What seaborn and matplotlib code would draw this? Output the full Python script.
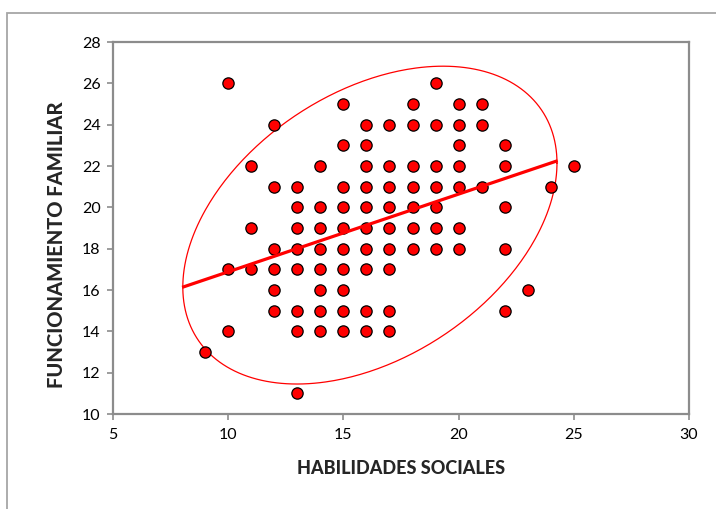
import numpy as np
import pandas as pd
import matplotlib
matplotlib.use("Agg")
import matplotlib.pyplot as plt
from matplotlib.patches import Rectangle
import seaborn as sns

# Puntajes observados: habilidades sociales (x) y funcionamiento familiar (y)
habilidades = [
    9,
    10, 10, 10,
    11, 11, 11,
    12, 12, 12, 12, 12, 12,
    13, 13, 13, 13, 13, 13, 13, 13,
    14, 14, 14, 14, 14, 14, 14, 14,
    15, 15, 15, 15, 15, 15, 15, 15, 15, 15,
    16, 16, 16, 16, 16, 16, 16, 16, 16, 16,
    17, 17, 17, 17, 17, 17, 17, 17, 17,
    18, 18, 18, 18, 18, 18, 18,
    19, 19, 19, 19, 19, 19, 19,
    20, 20, 20, 20, 20, 20, 20,
    21, 21, 21,
    22, 22, 22, 22, 22,
    23,
    24,
    25,
]
funcionamiento = [
    13,
    26, 17, 14,
    22, 19, 17,
    24, 21, 18, 17, 16, 15,
    21, 20, 19, 18, 17, 15, 14, 11,
    22, 20, 19, 18, 17, 16, 15, 14,
    25, 23, 21, 20, 19, 18, 17, 16, 15, 14,
    24, 23, 22, 21, 20, 19, 18, 17, 15, 14,
    24, 22, 21, 20, 19, 18, 17, 15, 14,
    25, 24, 22, 21, 20, 19, 18,
    26, 24, 22, 21, 20, 19, 18,
    25, 24, 23, 22, 21, 19, 18,
    25, 24, 21,
    23, 22, 20, 18, 15,
    16,
    21,
    22,
]

# Línea de tendencia lineal
tendencia_pendiente = 0.376
tendencia_intercepto = 13.12
tendencia_x = [8.0, 24.3]

# Elipse de concentración (centro y semidiámetros conjugados)
elipse_centro = (16.15, 19.14)
elipse_u = (8.12, 3.0)
elipse_v = (0.0, 7.08)

x_ticks = [5, 10, 15, 20, 25, 30]
y_ticks = [10, 12, 14, 16, 18, 20, 22, 24, 26, 28]

df = pd.DataFrame({"HABILIDADES SOCIALES": habilidades,
                   "FUNCIONAMIENTO FAMILIAR": funcionamiento})

sns.set_style("white")
plt.rcParams["font.family"] = ["Lato", "DejaVu Sans"]

W, H = 716, 509
fig = plt.figure(figsize=(W / 100, H / 100), dpi=100)
ax = fig.add_axes([113 / W, 1 - 414 / H, (689 - 113) / W, (414 - 42) / H])

gris = "#8c8c8c"

# Marco exterior del gráfico
fig.patches.append(Rectangle((7 / W, -0.05), 1.2, 1 - 13 / H + 0.05,
                             transform=fig.transFigure, fill=False,
                             edgecolor="#a6a6a6", linewidth=1.3, zorder=0))

sns.scatterplot(data=df, x="HABILIDADES SOCIALES", y="FUNCIONAMIENTO FAMILIAR",
                ax=ax, color="#ff0000", edgecolor="black", linewidth=0.9,
                s=66, zorder=3, legend=False)

tx = np.array(tendencia_x)
ax.plot(tx, tendencia_intercepto + tendencia_pendiente * tx,
        color="#ff0000", linewidth=2.3, zorder=4, solid_capstyle="butt")

t = np.linspace(0, 2 * np.pi, 400)
ex = elipse_centro[0] + elipse_u[0] * np.cos(t) + elipse_v[0] * np.sin(t)
ey = elipse_centro[1] + elipse_u[1] * np.cos(t) + elipse_v[1] * np.sin(t)
ax.plot(ex, ey, color="#ff0000", linewidth=0.9, zorder=2)

ax.set_xlim(5, 30)
ax.set_ylim(10, 28)
ax.set_xticks(x_ticks)
ax.set_yticks(y_ticks)
ax.set_xticklabels([str(v) for v in x_ticks])
ax.set_yticklabels([str(v) for v in y_ticks])

for s in ax.spines.values():
    s.set_visible(True)
    s.set_color(gris)
    s.set_linewidth(1.6)

ax.tick_params(axis="both", which="major", direction="out", length=4,
               width=1.2, color=gris, labelsize=11.5, labelcolor="black",
               bottom=True, left=True)
ax.tick_params(axis="x", pad=6)
ax.tick_params(axis="y", pad=5)

ax.set_xlabel("HABILIDADES SOCIALES", fontsize=13, fontweight=900,
              labelpad=13)
ax.set_ylabel("FUNCIONAMIENTO FAMILIAR", fontsize=14.5, fontweight=900)
ax.yaxis.set_label_coords(-0.082, 0.455)

fig.savefig("out.png", dpi=100, facecolor="white")
